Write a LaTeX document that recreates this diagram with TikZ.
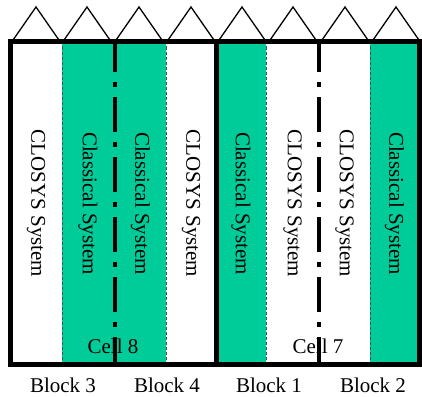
\documentclass[tikz,border=0pt]{standalone}
\usepackage{fontspec}
\setmainfont{Liberation Serif}
\definecolor{cgreen}{RGB}{0,204,153}
\definecolor{cdash}{RGB}{60,85,80}
\begin{document}
\begin{tikzpicture}[x=1pt,y=-1pt,
  txt/.style={font=\fontsize{21}{25}\selectfont,inner sep=0pt},
  vtxt/.style={txt,rotate=-90},
  blk/.style={txt,anchor=base,text depth=0pt},
  greencol/.style={fill=cgreen,draw=none},
  thinsep/.style={draw=cdash,line width=0.8pt,dash pattern=on 3pt off 2pt},
  cellsep/.style={draw=black,line width=4.5pt,dash pattern=on 35pt off 10pt on 5pt off 10pt,dash phase=4.5pt},
  frame/.style={draw=black,line width=5pt},
  roof/.style={draw=black,line width=1.3pt,line join=miter}]
\useasboundingbox (0,0) rectangle (422,396);
% green columns
\fill[greencol] (62,41.5) rectangle (166,364);
\fill[greencol] (216.5,41.5) rectangle (266,364);
\fill[greencol] (370,41.5) rectangle (419.5,364);
% vertical texts
\node[vtxt] (t1) at (36,203.5) {CLOSYS System};
\node[vtxt] (t2) at (88,203.5) {Classical System};
\node[vtxt] (t3) at (140.5,203.5) {Classical System};
\node[vtxt] (t4) at (191,203.5) {CLOSYS System};
\node[vtxt] (t5) at (241,203.5) {Classical System};
\node[vtxt] (t6) at (292.5,203.5) {CLOSYS System};
\node[vtxt] (t7) at (344.5,203.5) {CLOSYS System};
\node[vtxt] (t8) at (394.5,203.5) {Classical System};
% cell labels
\node[txt,anchor=base] (c8) at (113,353) {Cell 8};
\node[txt,anchor=base] (c7) at (318,353) {Cell 7};
% thin dashed separators
\foreach \x in {62,166,266,370}
  \draw[thinsep] (\x,41.5) -- (\x,364);
% cell dash-dot separators
\draw[cellsep] (115,41.5) -- (115,364);
\draw[cellsep] (319,41.5) -- (319,364);
% frame
\draw[frame] (10.5,41.5) rectangle (419.5,364);
\draw[frame] (216.5,41.5) -- (216.5,364);
% roofs
\foreach \l/\r in {12/60, 63/111, 115/163, 167/215, 218/266, 269/317, 321/369, 372/420}
  \draw[roof] (\l,41.5) -- ({(\l+\r)/2},7) -- (\r,41.5);
% block labels
\node[blk] (b3) at (63,392.5) {Block 3};
\node[blk] (b4) at (167,392.5) {Block 4};
\node[blk] (b1) at (269,392.5) {Block 1};
\node[blk] (b2) at (373,392.5) {Block 2};
\end{tikzpicture}
\end{document}
